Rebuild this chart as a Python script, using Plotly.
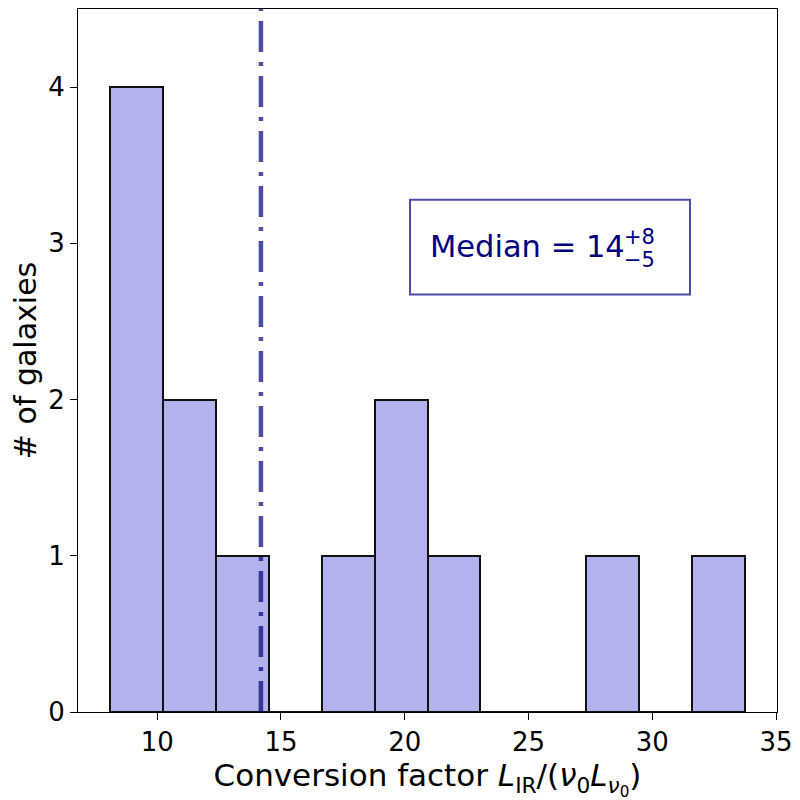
import plotly.graph_objects as go

# --- Histogram data ---
bin_edges = [8.08, 10.22, 12.36, 14.50, 16.64, 18.78, 20.92,
             23.06, 25.20, 27.34, 29.48, 31.62, 33.76]
counts = [4, 2, 1, 0, 1, 2, 1, 0, 0, 1, 0, 1]
median_value = 14.19
median_label = "14"
median_plus = "+8"
median_minus = "\u22125"

x_ticks = [10, 15, 20, 25, 30, 35]
y_ticks = [0, 1, 2, 3, 4]

centers = [(a + b) / 2 for a, b in zip(bin_edges[:-1], bin_edges[1:])]
widths = [b - a for a, b in zip(bin_edges[:-1], bin_edges[1:])]

FONT = "DejaVu Sans, sans-serif"
NAVY = "#000080"

fig = go.Figure()

fig.add_trace(
    go.Bar(
        x=centers,
        y=counts,
        width=widths,
        marker=dict(color="#b2b2ec", line=dict(color="#111111", width=2)),
        showlegend=False,
    )
)

# median line, drawn over the bars
fig.add_shape(
    type="line",
    x0=median_value, x1=median_value, xref="x",
    y0=0, y1=1, yref="paper",
    line=dict(color="rgba(0,0,128,0.7)", width=4.5, dash="31px,10px,4px,10px"),
    layer="above",
)

# text box
fig.add_shape(
    type="rect",
    xref="paper", yref="paper",
    x0=0.475, x1=0.8755, y0=0.5938, y1=0.7287,
    line=dict(color="rgba(0,0,128,0.7)", width=2),
    fillcolor="rgba(255,255,255,0)",
    layer="above",
)
fig.add_annotation(
    xref="paper", yref="paper", x=0.786, y=0.662,
    xanchor="right", yanchor="middle",
    text=f"Median = {median_label}", showarrow=False,
    font=dict(size=30.5, color=NAVY, family=FONT),
)
fig.add_annotation(
    xref="paper", yref="paper", x=0.778, y=0.675,
    xanchor="left", yanchor="middle",
    text=median_plus, showarrow=False,
    font=dict(size=21, color=NAVY, family=FONT),
)
fig.add_annotation(
    xref="paper", yref="paper", x=0.778, y=0.643,
    xanchor="left", yanchor="middle",
    text=median_minus, showarrow=False,
    font=dict(size=21, color=NAVY, family=FONT),
)

axis_style = dict(
    showline=True, linecolor="black", linewidth=1.2, mirror=True,
    ticks="outside", ticklen=7, tickwidth=1.2, tickcolor="black",
    showgrid=False, zeroline=False,
    tickfont=dict(size=26, color="black", family=FONT),
)

fig.update_xaxes(
    range=[6.80, 35.04],
    tickvals=x_ticks,
    title=dict(
        text="Conversion factor <i>L</i><sub>IR</sub>/(<i>\u03bd</i><sub>0</sub>"
             "<i>L</i><sub><i>\u03bd</i><sub>0</sub></sub>)",
        font=dict(size=31, color="black", family=FONT),
        standoff=3,
    ),
    **axis_style,
)
fig.update_yaxes(
    range=[0, 4.5],
    tickvals=y_ticks,
    title=dict(text="# of galaxies", font=dict(size=30, color="black", family=FONT),
               standoff=14),
    **axis_style,
)

# page body has an 8px margin, so shift the plot area back by that much
fig.update_layout(
    width=800,
    height=800,
    plot_bgcolor="white",
    paper_bgcolor="white",
    bargap=0,
    margin=dict(l=70, r=31, t=1, b=96),
    font=dict(family=FONT, color="black"),
)

fig.write_html("out.html")
